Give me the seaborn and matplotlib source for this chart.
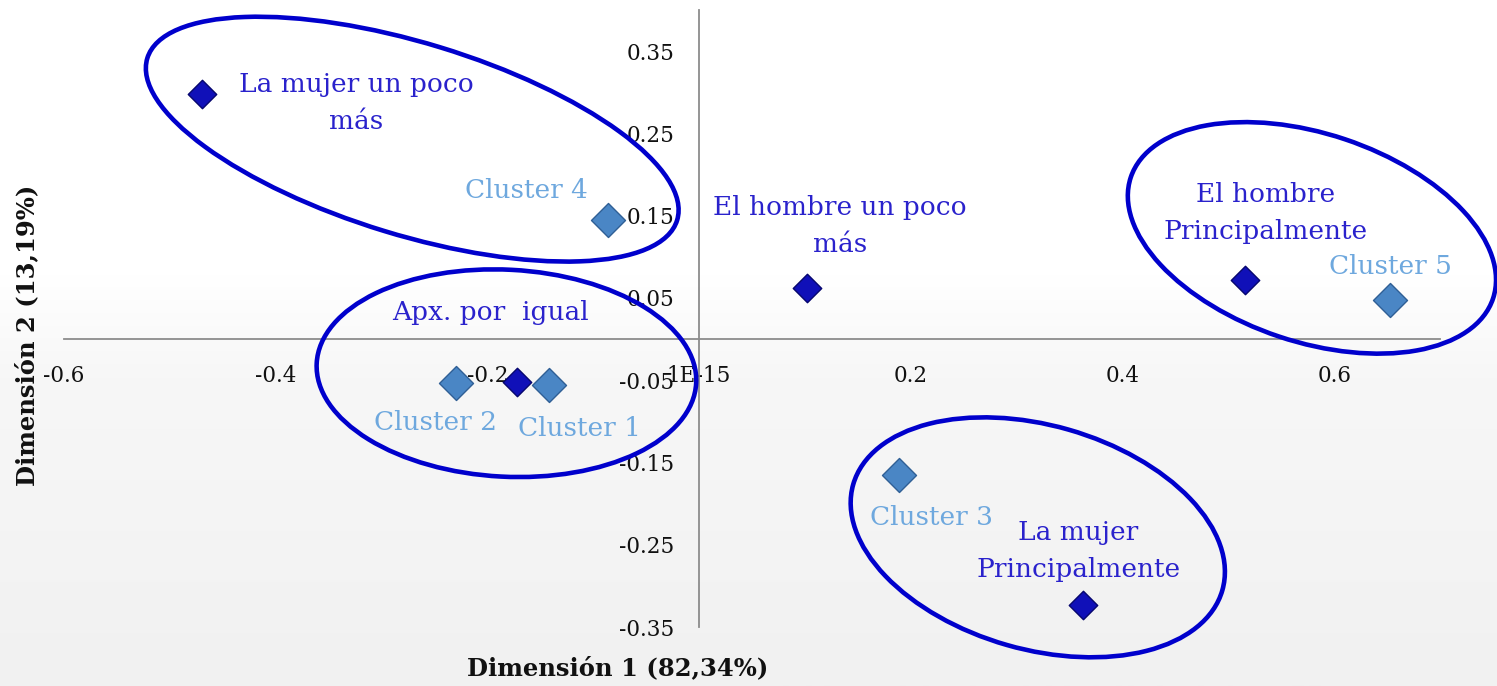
import numpy as np
import pandas as pd
import matplotlib.pyplot as plt
import matplotlib.transforms as mtransforms
from matplotlib.colors import LinearSegmentedColormap
from matplotlib.patches import Ellipse
import seaborn as sns

# response categories (dark diamonds)
cat_labels = ["La mujer un poco\nmás", "El hombre un poco\nmás", "Apx. por  igual",
              "El hombre\nPrincipalmente", "La mujer\nPrincipalmente"]
cat_x = [-0.470, 0.102, -0.172, 0.516, 0.363]
cat_y = [0.298, 0.062, -0.052, 0.072, -0.323]

# clusters (light diamonds)
clu_labels = ["Cluster 1", "Cluster 2", "Cluster 3", "Cluster 4", "Cluster 5"]
clu_x = [-0.142, -0.230, 0.189, -0.086, 0.653]
clu_y = [-0.056, -0.054, -0.165, 0.145, 0.048]

x_ticks = [-0.6, -0.4, -0.2, 0.0, 0.2, 0.4, 0.6]
x_tick_labels = ["-0.6", "-0.4", "-0.2", "1E-15", "0.2", "0.4", "0.6"]
y_ticks = [-0.35, -0.25, -0.15, -0.05, 0.05, 0.15, 0.25, 0.35]
y_tick_labels = ["-0.35", "-0.25", "-0.15", "-0.05", "0.05", "0.15", "0.25", "0.35"]

# group ellipses: center (data), width/height (px), angle
ell_cx = [-0.271, -0.182, 0.579, 0.320]
ell_cy = [0.243, -0.0415, 0.123, -0.241]
ell_w = [554, 380, 382, 384]
ell_h = [192, 207, 208, 224]
ell_ang = [-17, -3, -18.5, -16]

# label offsets in pixels from the marker
cat_off = [(155, -9), (33, 62), (-27, 69), (20, 67), (-5, 54)]
clu_off = [(31, -43), (-20, -39), (32, -43), (-82, 29), (0, 33)]

df_cat = pd.DataFrame({"x": cat_x, "y": cat_y, "label": cat_labels})
df_clu = pd.DataFrame({"x": clu_x, "y": clu_y, "label": clu_labels})

sns.set_style("white")
plt.rcParams["font.family"] = ["DejaVu Serif"]

fig = plt.figure(figsize=(14.97, 6.86), dpi=100)

# soft gradient background
bg = fig.add_axes([0, 0, 1, 1], zorder=-10)
grad = np.linspace(0, 1, 256).reshape(-1, 1)
cmap = LinearSegmentedColormap.from_list("bg", [(0, "#f1f1f1"), (0.45, "#f7f7f7"), (0.6, "#ffffff"), (1, "#ffffff")])
bg.imshow(grad, aspect="auto", cmap=cmap, origin="lower", extent=[0, 1, 0, 1])
bg.axis("off")

ax = fig.add_axes([64 / 1497, 1 - 627 / 686, 1376 / 1497, 617 / 686])
ax.set_facecolor("none")

sns.scatterplot(data=df_clu, x="x", y="y", marker="D", s=300, color="#4a86c5",
                edgecolor="#2f5f95", linewidth=1.0, ax=ax, zorder=4)
sns.scatterplot(data=df_cat, x="x", y="y", marker="D", s=210, color="#1010b8",
                edgecolor="#06066e", linewidth=1.0, ax=ax, zorder=5)

for (_, r), off in zip(df_cat.iterrows(), cat_off):
    ax.annotate(r["label"], (r["x"], r["y"]), xytext=off, textcoords="offset pixels",
                ha="center", va="center", fontsize=19, color="#2a22cc",
                linespacing=1.6, zorder=6)
for (_, r), off in zip(df_clu.iterrows(), clu_off):
    ax.annotate(r["label"], (r["x"], r["y"]), xytext=off, textcoords="offset pixels",
                ha="center", va="center", fontsize=19, color="#6ea8de", zorder=6)

for cx, cy, w, h, a in zip(ell_cx, ell_cy, ell_w, ell_h, ell_ang):
    tr = fig.dpi_scale_trans + mtransforms.ScaledTranslation(cx, cy, ax.transData)
    ax.add_patch(Ellipse((0, 0), w / 100, h / 100, angle=a, transform=tr,
                         fill=False, edgecolor="#0000cc", linewidth=3.3, zorder=7,
                         clip_on=False))

ax.set_xlim(-0.6, 0.7)
ax.set_ylim(-0.35, 0.40)
ax.spines["left"].set_position(("data", 0))
ax.spines["bottom"].set_position(("data", 0))
ax.spines["top"].set_visible(False)
ax.spines["right"].set_visible(False)
for s in ("left", "bottom"):
    ax.spines[s].set_color("#8c8c8c")
    ax.spines[s].set_linewidth(1.3)

ax.set_xticks(x_ticks)
ax.set_xticklabels(x_tick_labels)
ax.set_yticks(y_ticks)
ax.set_yticklabels(y_tick_labels)
ax.tick_params(direction="in", length=6, width=1.2, color="#8c8c8c", labelsize=15.5,
               labelcolor="#111111")
ax.tick_params(axis="x", pad=19)
ax.tick_params(axis="y", pad=18)
ax.set_xlabel("")
ax.set_ylabel("")

fig.text(618 / 1497, 1 - 668 / 686, "Dimensión 1 (82,34%)", ha="center", va="center",
         fontsize=17.5, fontweight="bold", color="#111111")
fig.text(27 / 1497, 1 - 335 / 686, "Dimensión 2 (13,19%)", ha="center", va="center",
         fontsize=17.5, fontweight="bold", color="#111111", rotation=90)

fig.savefig("out.png", dpi=100)
